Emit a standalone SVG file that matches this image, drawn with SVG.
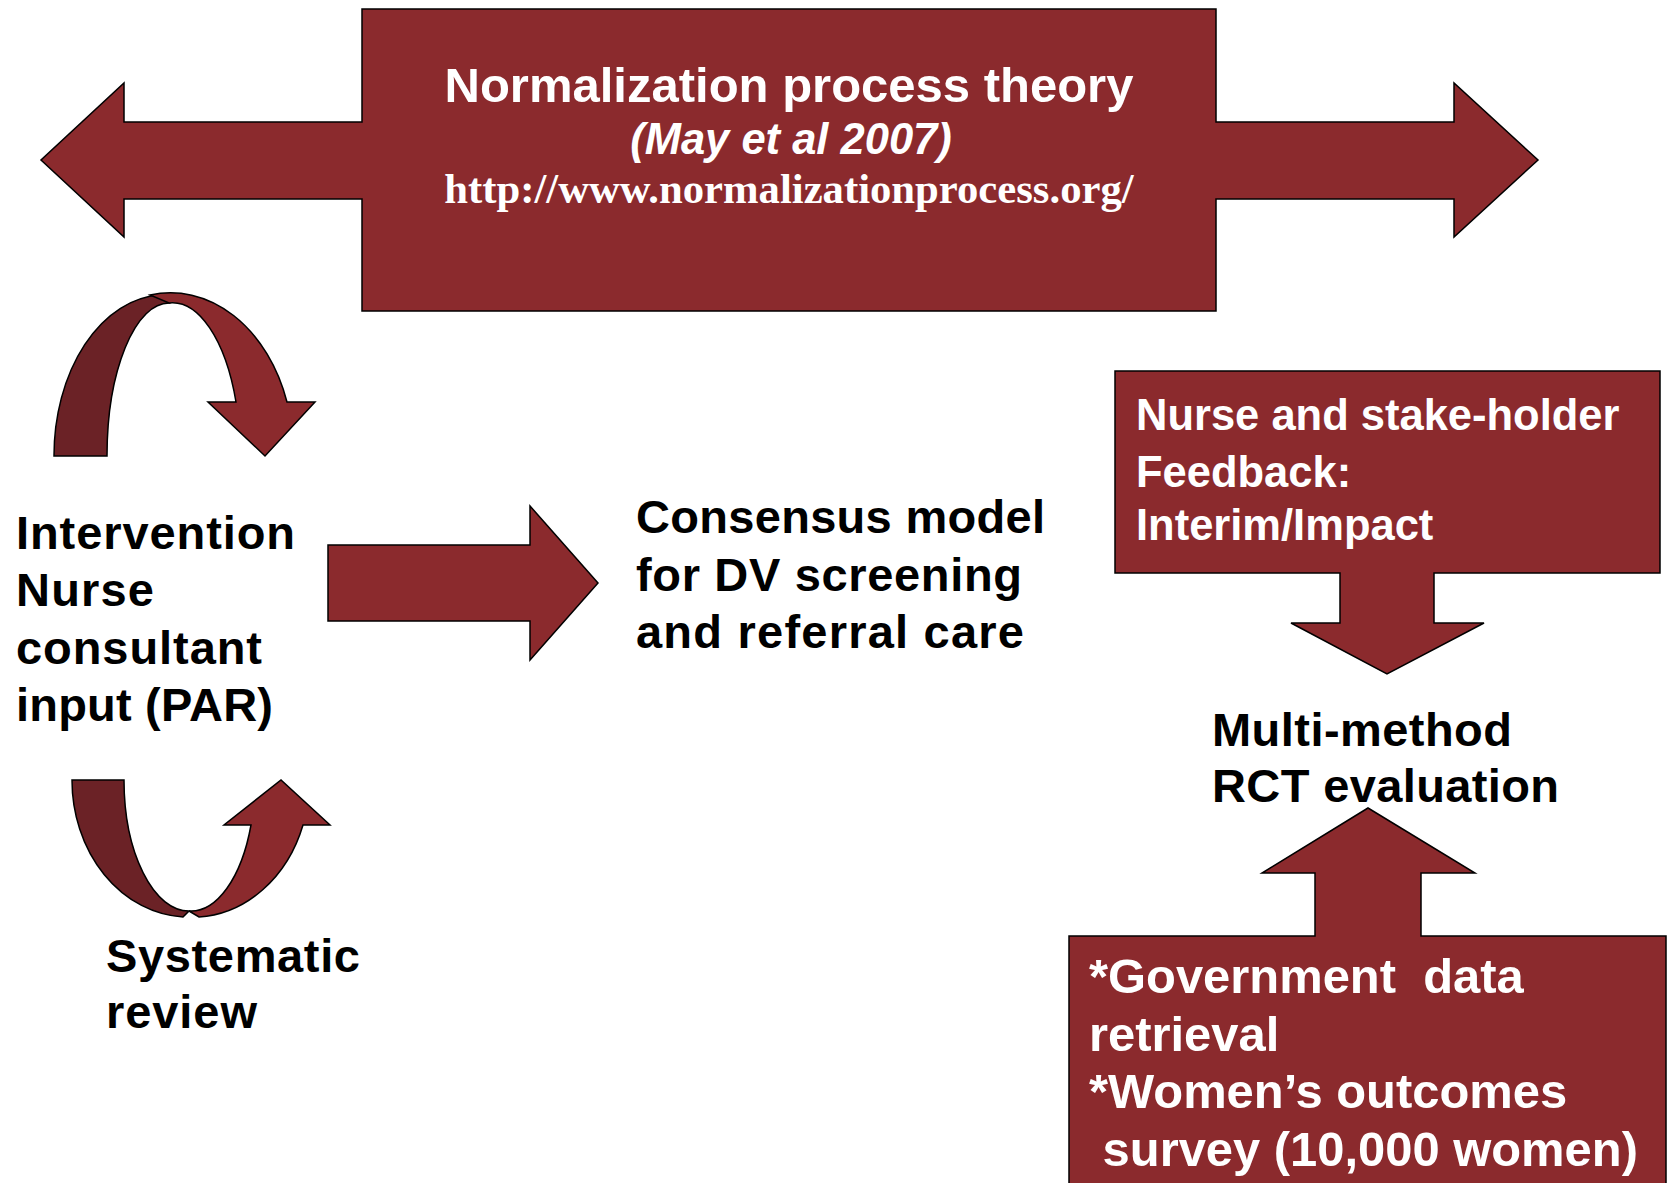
<svg xmlns="http://www.w3.org/2000/svg" width="1668" height="1183" viewBox="0 0 1668 1183">
<style>
.box{fill:#8B2A2D;stroke:#000;stroke-width:1.5;stroke-linejoin:miter}
.dark{fill:#6B2226;stroke:#000;stroke-width:1.5}
.w{fill:#fff;font-family:"Liberation Sans",Arial,sans-serif;font-weight:bold}
.b{fill:#000;font-family:"Liberation Sans",Arial,sans-serif;font-weight:bold;font-size:47px}
</style>
<rect width="1668" height="1183" fill="#fff"/>
<g id="npt">
<path class="box" d="M362,9 H1216 V122 H1454 V83 L1538,160 L1454,237 V199 H1216 V311 H362 V199 H124 V237 L41,160 L124,83 V122 H362 Z"/>
<text class="w" x="789" y="102" font-size="49" text-anchor="middle">Normalization process theory</text>
<text class="w" x="791" y="154" font-size="43.5" font-style="italic" text-anchor="middle">(May et al 2007)</text>
<text x="789" y="203" font-size="42.7" text-anchor="middle" fill="#fff" font-weight="bold" font-family="'Liberation Serif','Times New Roman',serif">http://www.normalizationprocess.org/</text>
</g>
<g id="connectors">
<g id="cycle-top">
<path class="dark" d="M54,456 A111,161 0 0 1 160,295 L169,303 A62,153 0 0 0 107,456 Z"/>
<path class="box" d="M150,295 A123,161 0 0 1 287,402 L315,402 L265,456 L208,402 L236,402 A68,153 0 0 0 169,303 Z"/>
</g>
<g id="cycle-bottom">
<path class="dark" d="M72,780 A117,137 0 0 0 183,917 L189,911 A65,131 0 0 1 124,780 Z"/>
<path class="box" d="M199,917 A117,137 0 0 0 303,825 L330,825 L281,780 L224,825 L251,825 A64,131 0 0 1 189,911 Z"/>
</g>
<path id="arrow-mid" class="box" d="M328,545 H530 V506 L598,583 L530,660 V621 H328 Z"/>
</g>
<g id="intervention">
<text class="b"><tspan x="16" y="549" textLength="279">Intervention</tspan><tspan x="16" y="606" textLength="138">Nurse</tspan><tspan x="16" y="664" textLength="246">consultant</tspan><tspan x="16" y="721" textLength="257">input (PAR)</tspan></text>
</g>
<g id="systematic">
<text class="b" font-size="48"><tspan x="106" y="972" textLength="254">Systematic</tspan><tspan x="106" y="1028" textLength="151">review</tspan></text>
</g>
<g id="consensus">
<text class="b"><tspan x="636" y="533" textLength="409">Consensus model</tspan><tspan x="636" y="591" textLength="386">for DV screening</tspan><tspan x="636" y="648" textLength="388">and referral care</tspan></text>
</g>
<g id="feedback">
<path class="box" d="M1115,371 H1660 V573 H1434 V623 H1484 L1387,674 L1291,623 H1340 V573 H1115 Z"/>
<text class="w" font-size="43.5"><tspan x="1136" y="430">Nurse and stake-holder</tspan><tspan x="1136" y="487">Feedback:</tspan><tspan x="1136" y="540">Interim/Impact</tspan></text>
</g>
<g id="rct">
<text class="b"><tspan x="1212" y="746" textLength="300">Multi-method</tspan><tspan x="1212" y="802" textLength="347">RCT evaluation</tspan></text>
</g>
<g id="data">
<path class="box" d="M1069,936 H1315 V873 H1262 L1368,808 L1475,873 H1421 V936 H1666 V1195 H1069 Z"/>
<text class="w" font-size="48.9" xml:space="preserve" style="white-space:pre"><tspan x="1089" y="993">*Government  data</tspan><tspan x="1089" y="1051">retrieval</tspan><tspan x="1089" y="1108">*Women’s outcomes</tspan><tspan x="1089" y="1166"> survey (10,000 women)</tspan></text>
</g>
</svg>
